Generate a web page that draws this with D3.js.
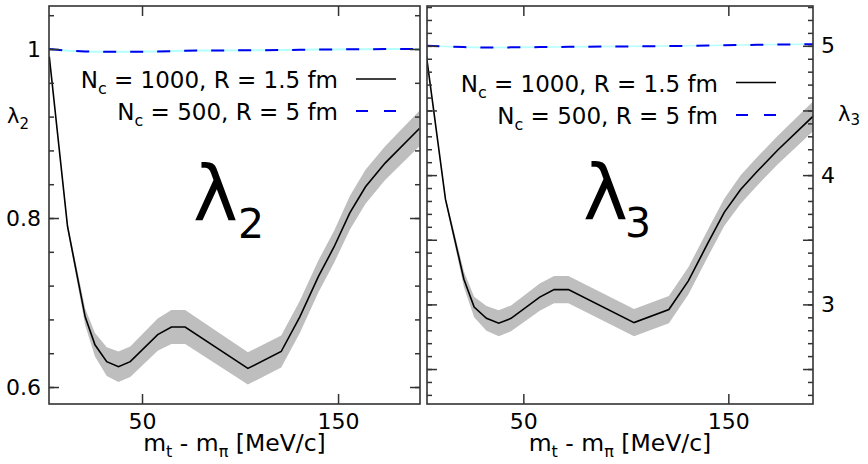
<!DOCTYPE html>
<html>
<head>
<meta charset="utf-8">
<script src="https://cdn.jsdelivr.net/npm/d3@7"></script>
<style>
  body { margin: 0; background: #fff; }
  text { font-family: "DejaVu Sans", sans-serif; fill: #000; }
</style>
</head>
<body>
<script>
// transverse mass points m_t - m_pi [MeV/c]
var mt = [2.7, 12, 21, 26, 32, 38, 44, 58, 65, 72, 104, 121, 130.5, 140, 148, 156, 164, 174, 191.5];

// N_c = 1000, R = 1.5 fm (black line + grey band)
var lam2 = [0.991, 0.790, 0.683, 0.650, 0.630, 0.624, 0.630, 0.662, 0.671, 0.671, 0.622, 0.642, 0.683, 0.731, 0.766, 0.806, 0.837, 0.865, 0.906];
var lam2Err = [0, 0.004, 0.01, 0.014, 0.017, 0.018, 0.018, 0.019, 0.02, 0.02, 0.019, 0.019, 0.019, 0.019, 0.019, 0.02, 0.02, 0.02, 0.021];
var lam3 = [4.924, 3.814, 3.195, 2.980, 2.892, 2.854, 2.892, 3.056, 3.114, 3.114, 2.859, 2.960, 3.182, 3.473, 3.712, 3.889, 4.028, 4.192, 4.458];
var lam3Err = [0, 0.02, 0.06, 0.08, 0.095, 0.1, 0.1, 0.105, 0.105, 0.105, 0.105, 0.105, 0.105, 0.105, 0.105, 0.11, 0.11, 0.11, 0.115];

// N_c = 500, R = 5 fm (blue dashed)
var lam2Big = [1.000, 0.998, 0.997, 0.9968, 0.9967, 0.9967, 0.9968, 0.997, 0.9975, 0.998, 0.9985, 0.9988, 0.999, 0.9993, 0.9995, 0.9997, 0.9998, 0.9999, 1.0];
var lam3Big = [5.0, 4.995, 4.99, 4.988, 4.987, 4.987, 4.988, 4.99, 4.991, 4.992, 4.996, 4.998, 5.0, 5.002, 5.004, 5.006, 5.008, 5.01, 5.013];

var xTicks = [50, 150];
var lam2Major = [0.6, 0.8, 1.0];
var lam2Minor = [0.6, 0.64, 0.68, 0.72, 0.76, 0.8, 0.84, 0.88, 0.92, 0.96, 1.0, 1.04];
var lam3Major = [2.5, 3, 3.5, 4, 4.5, 5];
var lam3Minor = d3.range(23, 54).map(function(d) { return d / 10; });

var legendLabels = ["1000, R = 1.5 fm", "500, R = 5 fm"];

var width = 868, height = 464;
var yTop = 6, yBottom = 404;

var svg = d3.select("body").append("svg")
    .attr("width", width)
    .attr("height", height);

var panels = [
  { x0: 49, x1: 420, xdom: [2.55, 191.8], ydom: [0.5799, 1.0509],
    vals: lam2, err: lam2Err, big: lam2Big, bigErr: 0.0012,
    major: lam2Major, minor: lam2Minor, labelSide: "left",
    fmt: function(d) { return d === 1 ? "1" : d3.format(".1f")(d); },
    legendX: 338, legendY: [88, 120], name: "2",
    bigX: 193, bigY: 220, subX: 238, subY: 238 },
  { x0: 427, x1: 813, xdom: [3.0, 191.3], ydom: [2.2295, 5.308],
    vals: lam3, err: lam3Err, big: lam3Big, bigErr: 0.006,
    major: lam3Major, minor: lam3Minor, labelSide: "right",
    fmt: function(d) { return d % 1 === 0 ? String(d) : ""; },
    legendX: 718, legendY: [91.5, 124], name: "3",
    bigX: 583, bigY: 219, subX: 625, subY: 237 }
];

panels.forEach(function(p, i) {
  var x = d3.scaleLinear().domain(p.xdom).range([p.x0, p.x1]);
  var y = d3.scaleLinear().domain(p.ydom).range([yBottom, yTop]);
  var g = svg.append("g");

  g.append("clipPath").attr("id", "clip" + i)
    .append("rect")
      .attr("x", p.x0).attr("y", yTop)
      .attr("width", p.x1 - p.x0).attr("height", yBottom - yTop);

  var plot = g.append("g").attr("clip-path", "url(#clip" + i + ")");

  var band = d3.area()
      .x(function(d, j) { return x(mt[j]); })
      .y0(function(d, j) { return y(d - p.err[j]); })
      .y1(function(d, j) { return y(d + p.err[j]); });

  plot.append("path")
      .datum(p.vals)
      .attr("d", band)
      .style("fill", "#bebebe");

  plot.append("path")
      .datum(p.big)
      .attr("d", d3.area()
        .x(function(d, j) { return x(mt[j]); })
        .y0(function(d) { return y(d - p.bigErr); })
        .y1(function(d) { return y(d + p.bigErr); }))
      .style("fill", "#b4ffff");

  var line = d3.line()
      .x(function(d, j) { return x(mt[j]); })
      .y(function(d) { return y(d); });

  plot.append("path")
      .datum(p.vals)
      .attr("d", line)
      .style("fill", "none")
      .style("stroke", "#000")
      .style("stroke-width", 1.6);

  plot.append("path")
      .datum(p.big)
      .attr("d", line)
      .style("fill", "none")
      .style("stroke", "#0000ee")
      .style("stroke-width", 2)
      .style("stroke-dasharray", "13,14");

  // ticks, all pointing inwards
  function styleAxis(sel) {
    sel.select(".domain").remove();
    sel.selectAll(".tick line").style("stroke", "#333").style("stroke-width", 1.5);
    sel.selectAll(".tick text")
        .style("font-family", "'DejaVu Sans', sans-serif")
        .style("font-size", "22px")
        .attr("fill", "#000");
  }

  g.append("g").attr("transform", "translate(0," + yBottom + ")")
      .call(d3.axisBottom(x).tickValues(xTicks).tickSizeInner(-10).tickSizeOuter(0).tickPadding(9).tickFormat(d3.format("d")))
      .call(styleAxis);
  g.append("g").attr("transform", "translate(0," + yTop + ")")
      .call(d3.axisTop(x).tickValues(xTicks).tickSizeInner(-10).tickSizeOuter(0).tickFormat(""))
      .call(styleAxis);

  var leftMajor = d3.axisLeft(y).tickValues(p.major).tickSizeInner(-10).tickSizeOuter(0).tickPadding(8);
  var rightMajor = d3.axisRight(y).tickValues(p.major).tickSizeInner(-10).tickSizeOuter(0).tickPadding(8);
  if (p.labelSide === "left") {
    leftMajor.tickFormat(p.fmt);
    rightMajor.tickFormat("");
  } else {
    leftMajor.tickFormat("");
    rightMajor.tickFormat(p.fmt);
  }
  g.append("g").attr("transform", "translate(" + p.x0 + ",0)").call(leftMajor).call(styleAxis);
  g.append("g").attr("transform", "translate(" + p.x1 + ",0)").call(rightMajor).call(styleAxis);
  g.append("g").attr("transform", "translate(" + p.x0 + ",0)")
      .call(d3.axisLeft(y).tickValues(p.minor).tickSizeInner(-5).tickSizeOuter(0).tickFormat(""))
      .call(styleAxis);
  g.append("g").attr("transform", "translate(" + p.x1 + ",0)")
      .call(d3.axisRight(y).tickValues(p.minor).tickSizeInner(-5).tickSizeOuter(0).tickFormat(""))
      .call(styleAxis);

  g.append("rect")
      .attr("x", p.x0).attr("y", yTop)
      .attr("width", p.x1 - p.x0).attr("height", yBottom - yTop)
      .style("fill", "none")
      .style("stroke", "#333")
      .style("stroke-width", 1.6);

  // x axis title
  var xt = g.append("text")
      .attr("x", (p.x0 + p.x1) / 2)
      .attr("y", 451)
      .attr("text-anchor", "middle")
      .style("font-size", "23.5px");
  xt.append("tspan").text("m");
  xt.append("tspan").attr("dy", 6).style("font-size", "16px").text("t");
  xt.append("tspan").attr("dy", -6).text(" - m");
  xt.append("tspan").attr("dy", 6).style("font-size", "16px").text("\u03c0");
  xt.append("tspan").attr("dy", -6).text(" [MeV/c]");

  // legend
  legendLabels.forEach(function(lab, k) {
    var t = g.append("text")
        .attr("x", p.legendX)
        .attr("y", p.legendY[k])
        .attr("text-anchor", "end")
        .style("font-size", "23px");
    t.append("tspan").text("N");
    t.append("tspan").attr("dy", 6).style("font-size", "16px").text("c");
    t.append("tspan").attr("dy", -6).text(" = " + lab);

    g.append("line")
        .attr("x1", p.legendX + 18).attr("x2", p.legendX + 58)
        .attr("y1", p.legendY[k] - 9).attr("y2", p.legendY[k] - 9)
        .style("stroke", k === 0 ? "#000" : "#0000ee")
        .style("stroke-width", k === 0 ? 1.6 : 2)
        .style("stroke-dasharray", k === 0 ? null : "12,16");
  });

  // big panel label
  g.append("text")
      .attr("x", p.bigX).attr("y", p.bigY)
      .style("font-size", "76px")
      .text("\u03bb");
  g.append("text")
      .attr("x", p.subX).attr("y", p.subY)
      .style("font-size", "41px")
      .text(p.name);
});

// y axis titles
var yl = svg.append("text").attr("x", 7).attr("y", 123).style("font-size", "21px");
yl.append("tspan").text("\u03bb");
yl.append("tspan").attr("dy", 6).style("font-size", "15px").text("2");

var yr = svg.append("text").attr("x", 838).attr("y", 121).style("font-size", "21px");
yr.append("tspan").text("\u03bb");
yr.append("tspan").attr("dy", 4).style("font-size", "15px").text("3");
</script>
</body>
</html>
